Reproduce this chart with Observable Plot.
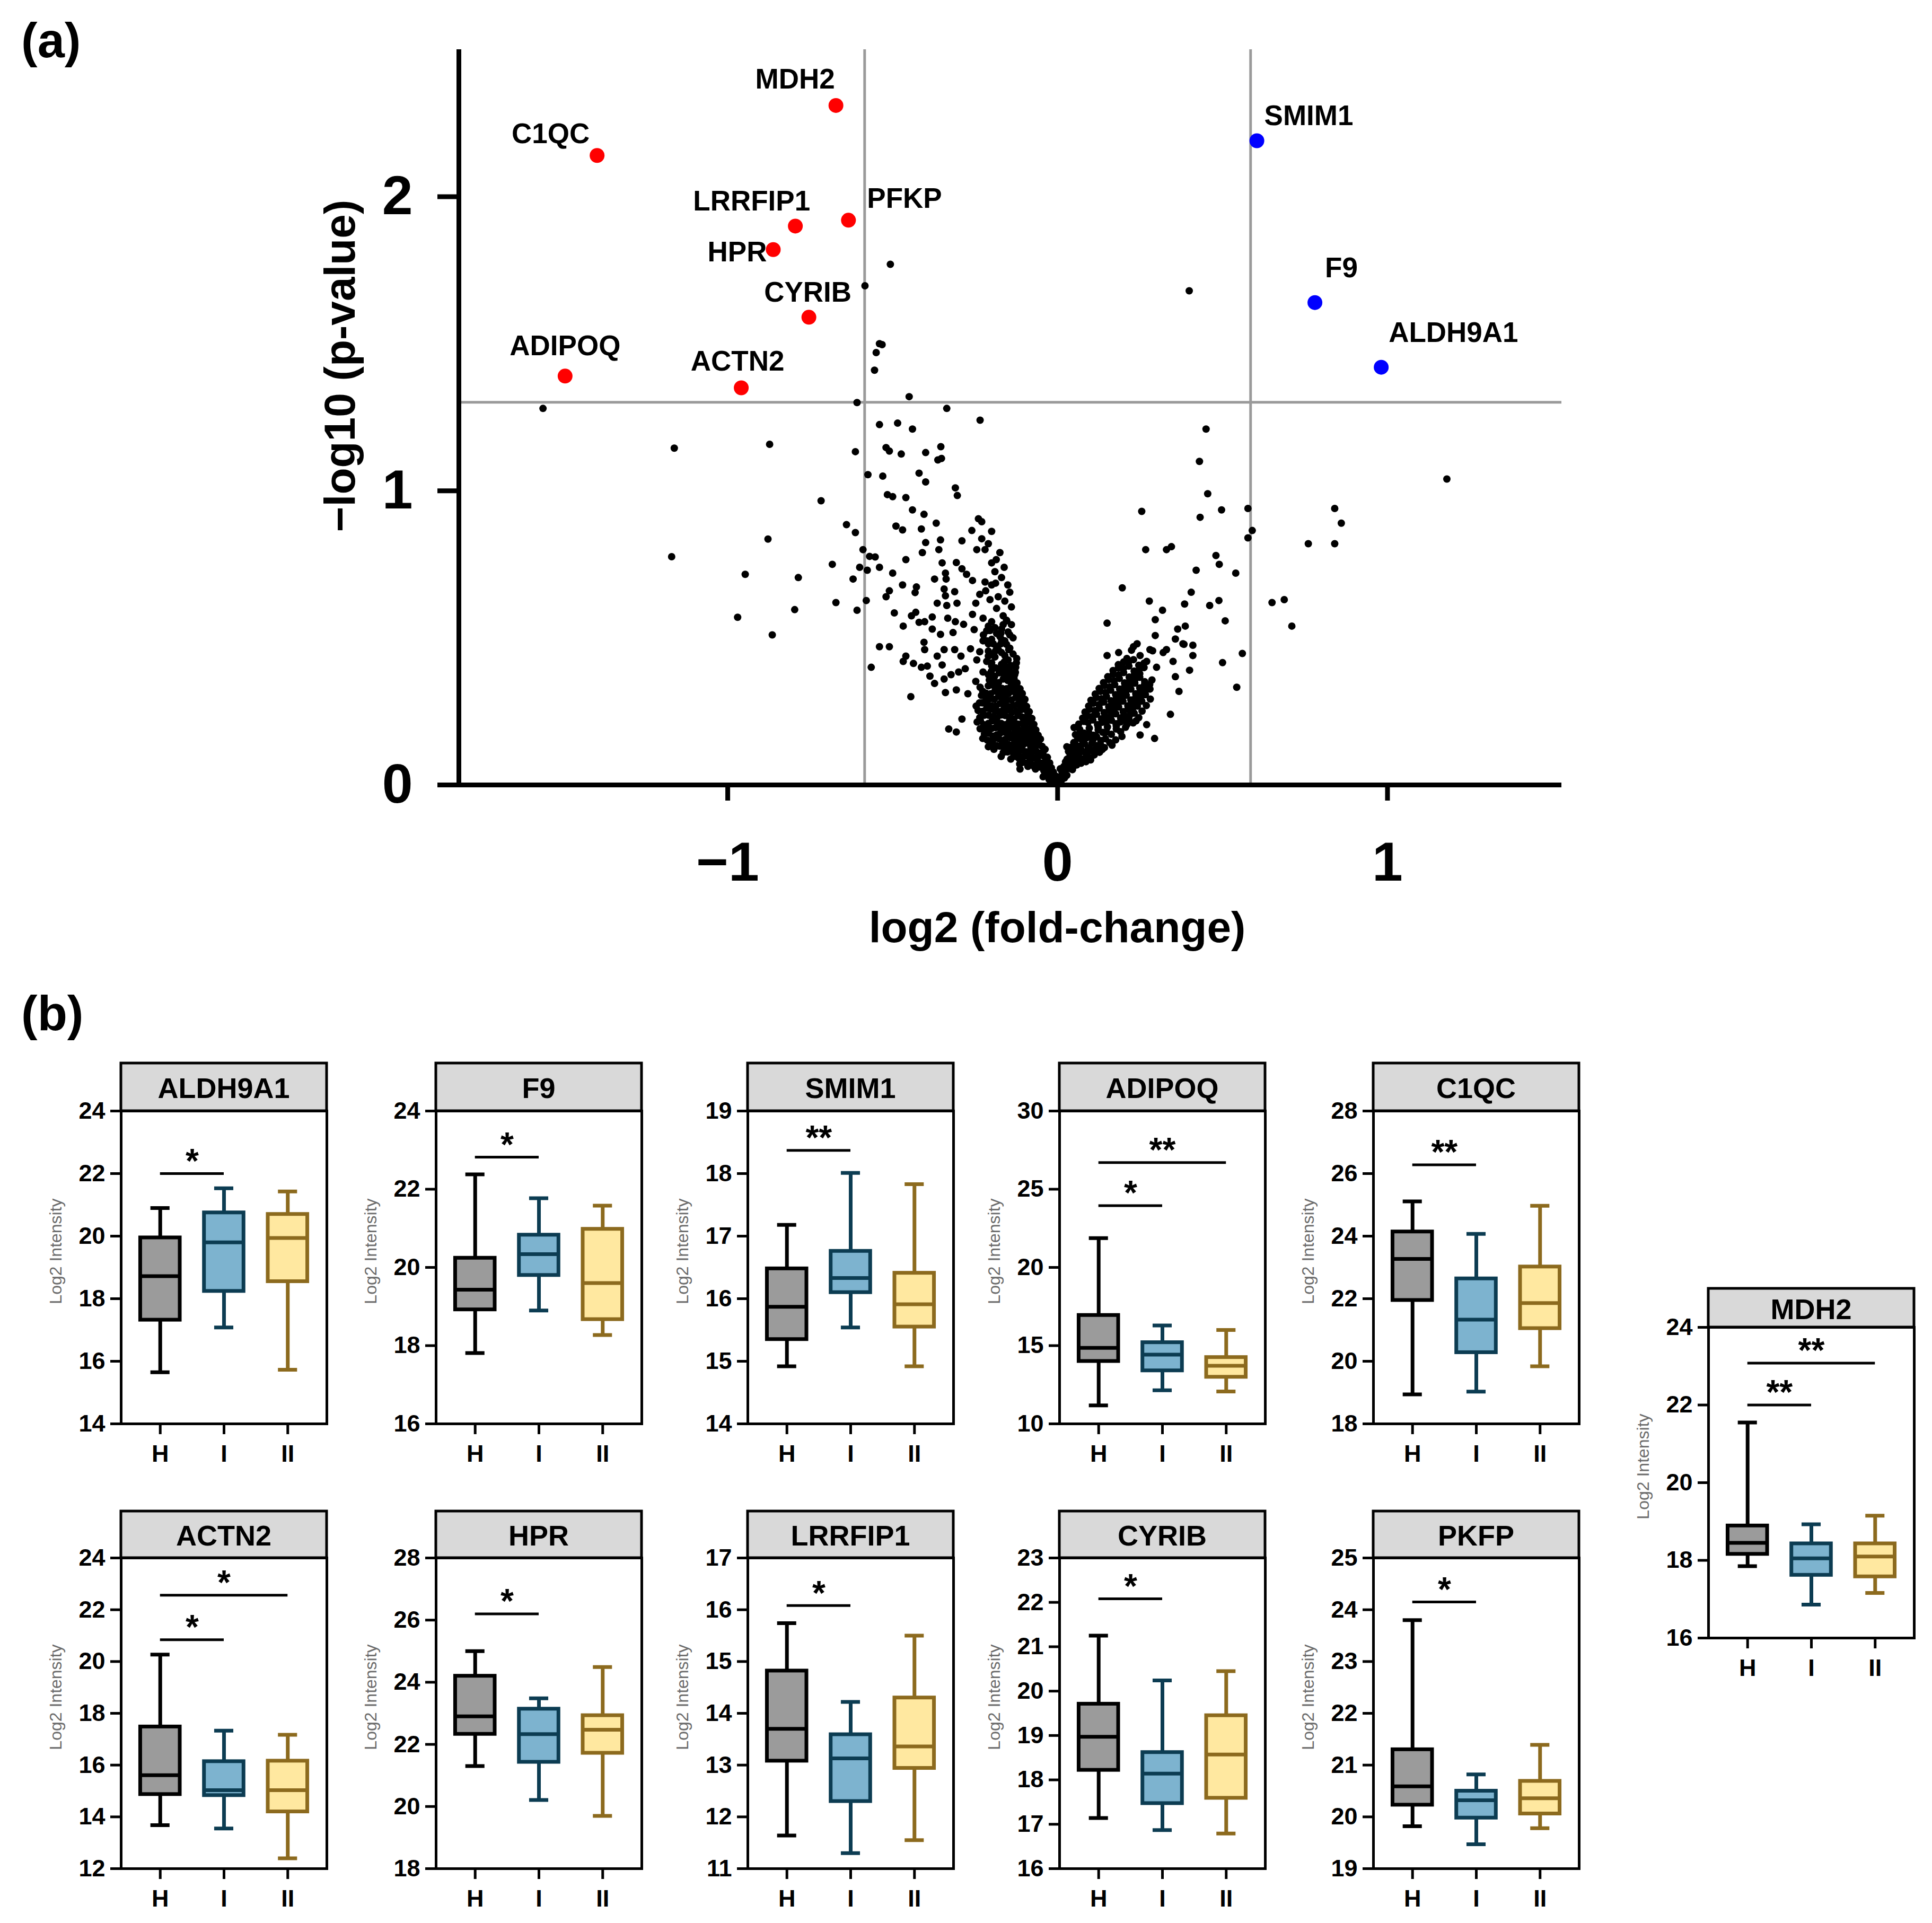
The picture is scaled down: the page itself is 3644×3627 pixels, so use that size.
<!DOCTYPE html>
<html>
<head>
<meta charset="utf-8">
<script src="https://cdn.jsdelivr.net/npm/d3@7"></script>
<script src="https://cdn.jsdelivr.net/npm/@observablehq/plot@0.6"></script>
<style>
  html, body { margin: 0; padding: 0; background: #ffffff; }
  #root { position: relative; width: 3644px; height: 3627px; background: #ffffff; font-family: "Liberation Sans", Arial, Helvetica, sans-serif; overflow: hidden; }
  .panel-letter { position: absolute; font-weight: bold; font-size: 92px; line-height: 1; color: #000; }
</style>
</head>
<body>
<div id="root"></div>
<script>
// ===================== DATA: volcano plot (a) =====================
const highlightGenes = ["MDH2","C1QC","LRRFIP1","PFKP","HPR","CYRIB","ADIPOQ","ACTN2","SMIM1","F9","ALDH9A1"];
const highlightLog2FC = [-0.672,-1.396,-0.795,-0.634,-0.862,-0.754,-1.493,-0.959,0.604,0.780,0.981];
const highlightNegLog10P = [2.31,2.14,1.90,1.92,1.82,1.59,1.39,1.35,2.19,1.64,1.42];
const highlightDirection = ["down","down","down","down","down","down","down","down","up","up","up"];

const xTicksVolcano = [-1, 0, 1];
const yTicksVolcano = [0, 1, 2];
const fcThreshold = [-0.585, 0.585];
const pThreshold = [1.301];

// other proteins [log2FC, -log10 p]
const leftArmDense = [
[-0.004,0.012],[-0.011,0.009],[-0.017,0.027],[-0.007,0.031],[-0.026,0.019],[-0.021,0.041],[-0.035,0.036],[-0.013,0.044],[-0.044,0.028],[-0.031,0.052],
[-0.019,0.058],[-0.042,0.049],[-0.055,0.061],[-0.028,0.067],[-0.067,0.054],[-0.048,0.074],[-0.078,0.069],[-0.036,0.081],[-0.09,0.063],[-0.061,0.083],[-0.104,0.077],[-0.024,0.075],[-0.083,0.087],[-0.115,0.071],
[-0.031,0.094],[-0.052,0.101],[-0.073,0.092],[-0.096,0.099],[-0.117,0.09],[-0.044,0.112],[-0.066,0.117],[-0.088,0.108],[-0.109,0.118],[-0.133,0.104],[-0.152,0.112],[-0.171,0.097],[-0.038,0.121],[-0.125,0.121],[-0.081,0.125],[-0.161,0.123],[-0.142,0.088],
[-0.047,0.131],[-0.062,0.142],[-0.079,0.136],[-0.097,0.147],[-0.114,0.133],[-0.131,0.144],[-0.149,0.137],[-0.167,0.146],[-0.186,0.134],[-0.203,0.142],[-0.052,0.156],[-0.071,0.161],[-0.093,0.158],[-0.121,0.155],[-0.144,0.161],[-0.178,0.157],[-0.213,0.152],[-0.158,0.129],[-0.193,0.121],
[-0.059,0.169],[-0.084,0.174],[-0.106,0.168],[-0.126,0.178],[-0.151,0.171],[-0.174,0.176],[-0.196,0.166],[-0.222,0.173],[-0.066,0.187],[-0.091,0.192],[-0.117,0.186],[-0.139,0.196],[-0.163,0.189],[-0.188,0.195],[-0.211,0.186],[-0.235,0.191],[-0.101,0.199],[-0.227,0.158],
[-0.072,0.206],[-0.095,0.213],[-0.121,0.207],[-0.146,0.216],[-0.171,0.209],[-0.198,0.218],[-0.224,0.205],[-0.244,0.214],[-0.078,0.226],[-0.108,0.231],[-0.133,0.224],[-0.159,0.236],[-0.184,0.228],[-0.209,0.237],[-0.236,0.229],[-0.09,0.241],[-0.145,0.201],
[-0.086,0.249],[-0.112,0.255],[-0.139,0.247],[-0.163,0.258],[-0.189,0.251],[-0.215,0.261],[-0.241,0.253],[-0.094,0.267],[-0.121,0.274],[-0.148,0.266],[-0.174,0.277],[-0.201,0.269],[-0.228,0.279],[-0.247,0.268],[-0.103,0.282],
[-0.099,0.291],[-0.127,0.297],[-0.153,0.289],[-0.179,0.301],[-0.206,0.293],[-0.231,0.304],[-0.107,0.311],[-0.135,0.318],[-0.162,0.309],[-0.19,0.319],[-0.217,0.312],[-0.118,0.3],
[-0.114,0.327],[-0.141,0.336],[-0.168,0.328],[-0.196,0.339],[-0.123,0.347],[-0.151,0.355],[-0.179,0.348],[-0.207,0.357],[-0.132,0.362],[-0.186,0.331],
[-0.137,0.371],[-0.163,0.378],[-0.191,0.369],[-0.146,0.389],[-0.174,0.396],[-0.201,0.386],[-0.128,0.383],[-0.158,0.403],
[-0.13,0.375],[-0.2,0.405],[-0.17,0.41],[-0.125,0.415],[-0.215,0.42],[-0.15,0.425],[-0.19,0.435],[-0.135,0.445],[-0.17,0.45],[-0.21,0.455],[-0.145,0.465],
[-0.185,0.47],[-0.16,0.49],[-0.2,0.495],[-0.135,0.5],[-0.175,0.505],[-0.225,0.51],[-0.15,0.52],[-0.19,0.535],[-0.165,0.545],[-0.21,0.54],[-0.14,0.545],
[-0.165,0.575],[-0.185,0.6],[-0.14,0.605],[-0.205,0.63],[-0.16,0.625],[-0.145,0.655],[-0.22,0.69],[-0.17,0.705],[-0.19,0.725],[-0.2,0.755],[-0.175,0.79],[-0.21,0.82],[-0.2,0.862],[-0.24,0.905]
];
const leftArmFill = [
[-0.032,0.058],[-0.05,0.062],[-0.071,0.062],[-0.06,0.075],[-0.09,0.075],[-0.04,0.07],
[-0.042,0.098],[-0.062,0.096],[-0.085,0.103],[-0.107,0.094],[-0.128,0.097],[-0.056,0.108],[-0.077,0.114],[-0.098,0.113],[-0.12,0.11],[-0.145,0.119],[-0.165,0.11],
[-0.056,0.137],[-0.07,0.127],[-0.088,0.141],[-0.105,0.136],[-0.122,0.143],[-0.14,0.131],[-0.158,0.143],[-0.176,0.132],[-0.195,0.136],[-0.062,0.15],[-0.082,0.152],[-0.107,0.152],[-0.132,0.157],[-0.16,0.154],[-0.195,0.155],[-0.21,0.13],
[-0.071,0.172],[-0.095,0.18],[-0.115,0.175],[-0.138,0.172],[-0.162,0.18],[-0.185,0.17],[-0.209,0.176],[-0.079,0.195],[-0.104,0.186],[-0.128,0.19],[-0.151,0.188],[-0.175,0.196],[-0.2,0.192],[-0.223,0.196],
[-0.083,0.215],[-0.108,0.209],[-0.133,0.213],[-0.158,0.205],[-0.184,0.215],[-0.21,0.209],[-0.234,0.219],[-0.093,0.231],[-0.12,0.236],[-0.146,0.229],[-0.171,0.238],[-0.196,0.233],[-0.222,0.237],
[-0.099,0.257],[-0.125,0.25],[-0.151,0.256],[-0.176,0.249],[-0.202,0.258],[-0.228,0.25],[-0.107,0.274],[-0.134,0.27],[-0.161,0.276],[-0.187,0.268],[-0.214,0.275],[-0.237,0.279],
[-0.113,0.293],[-0.14,0.289],[-0.166,0.297],[-0.192,0.291],[-0.218,0.298],[-0.121,0.316],[-0.149,0.311],[-0.176,0.316],[-0.203,0.31],[-0.227,0.318],
[-0.127,0.333],[-0.155,0.327],[-0.182,0.343],[-0.21,0.337],[-0.137,0.352],[-0.165,0.36],[-0.193,0.352],
[-0.15,0.373],[-0.177,0.381],[-0.205,0.372],[-0.16,0.392],[-0.188,0.398],[-0.142,0.406],[-0.172,0.392],[-0.2,0.415],
[-0.16,0.44],[-0.2,0.445],[-0.18,0.46],[-0.155,0.478],[-0.195,0.48],[-0.17,0.495],[-0.215,0.49],[-0.145,0.51],[-0.185,0.515],[-0.205,0.525],[-0.17,0.53],[-0.155,0.56]
];
const rightArmDense = [
[0.004,0.011],[0.012,0.016],[0.009,0.029],[0.021,0.024],[0.017,0.038],[0.028,0.033],[0.013,0.046],
[0.022,0.049],[0.036,0.056],[0.019,0.063],[0.047,0.061],[0.031,0.071],[0.058,0.068],[0.024,0.078],[0.043,0.081],[0.071,0.074],[0.086,0.079],
[0.029,0.088],[0.052,0.091],[0.073,0.087],[0.038,0.101],[0.064,0.104],[0.091,0.097],[0.111,0.102],[0.033,0.114],[0.056,0.117],[0.081,0.112],[0.102,0.119],[0.127,0.111],
[0.041,0.128],[0.067,0.131],[0.093,0.126],[0.118,0.134],[0.142,0.127],[0.049,0.144],[0.076,0.148],[0.104,0.142],[0.131,0.151],[0.158,0.144],[0.176,0.153],[0.061,0.158],[0.089,0.161],
[0.054,0.171],[0.081,0.176],[0.109,0.169],[0.137,0.179],[0.163,0.172],[0.191,0.181],[0.067,0.189],[0.096,0.193],[0.123,0.187],[0.151,0.197],[0.178,0.19],[0.206,0.196],[0.118,0.164],
[0.064,0.207],[0.092,0.212],[0.121,0.205],[0.149,0.216],[0.177,0.208],[0.204,0.219],[0.229,0.211],[0.076,0.227],[0.104,0.232],[0.133,0.225],[0.162,0.236],[0.191,0.228],[0.219,0.238],[0.246,0.229],
[0.083,0.248],[0.112,0.253],[0.141,0.246],[0.171,0.257],[0.199,0.249],[0.228,0.261],[0.256,0.251],[0.094,0.268],[0.126,0.273],[0.155,0.266],[0.184,0.277],[0.213,0.269],[0.242,0.279],[0.269,0.27],
[0.101,0.288],[0.133,0.293],[0.162,0.286],[0.193,0.297],[0.222,0.289],[0.253,0.301],[0.281,0.292],[0.114,0.309],[0.146,0.314],[0.176,0.307],[0.207,0.318],[0.237,0.31],[0.266,0.319],
[0.126,0.328],[0.158,0.333],[0.188,0.326],[0.219,0.338],[0.249,0.33],[0.279,0.341],[0.139,0.348],[0.171,0.354],[0.203,0.347],[0.234,0.358],[0.264,0.351],
[0.152,0.368],[0.185,0.374],[0.217,0.367],[0.249,0.378],[0.168,0.389],[0.2,0.396],[0.232,0.387],[0.262,0.399],[0.184,0.409],[0.215,0.416],[0.246,0.407],
[0.27,0.42],[0.3,0.4],[0.25,0.44],[0.21,0.43],[0.32,0.45],[0.28,0.46],[0.23,0.47],[0.35,0.42],[0.185,0.45]
];
const rightArmFill = [
[0.015,0.04],[0.03,0.06],[0.008,0.055],[0.045,0.052],
[0.028,0.085],[0.05,0.078],[0.064,0.092],[0.08,0.089],[0.1,0.085],[0.04,0.095],
[0.045,0.107],[0.07,0.122],[0.094,0.115],[0.116,0.122],[0.135,0.12],[0.028,0.13],
[0.055,0.136],[0.082,0.14],[0.107,0.153],[0.13,0.138],[0.165,0.135],[0.145,0.157],[0.075,0.165],
[0.07,0.18],[0.096,0.175],[0.123,0.196],[0.148,0.18],[0.178,0.2],[0.195,0.165],[0.05,0.195],[0.21,0.205],
[0.08,0.216],[0.107,0.221],[0.135,0.213],[0.163,0.22],[0.19,0.214],[0.216,0.225],[0.238,0.218],[0.09,0.235],[0.118,0.24],[0.147,0.231],[0.176,0.242],[0.205,0.233],[0.232,0.244],
[0.097,0.257],[0.126,0.261],[0.156,0.254],[0.185,0.265],[0.213,0.257],[0.242,0.268],[0.108,0.278],[0.14,0.282],[0.17,0.275],[0.198,0.285],[0.227,0.277],[0.255,0.285],
[0.117,0.297],[0.148,0.301],[0.178,0.295],[0.208,0.305],[0.237,0.298],[0.266,0.307],[0.13,0.318],[0.161,0.322],[0.191,0.315],[0.222,0.326],[0.251,0.318],[0.28,0.326],
[0.142,0.338],[0.173,0.341],[0.204,0.336],[0.234,0.346],[0.263,0.34],[0.155,0.358],[0.187,0.362],[0.219,0.356],[0.249,0.366],[0.286,0.357],
[0.168,0.376],[0.2,0.382],[0.233,0.375],[0.184,0.398],[0.216,0.404],[0.248,0.393],[0.2,0.418],[0.23,0.426],[0.262,0.414]
];
const leftScatter = [
[-0.44,0.935],[-0.405,0.92],[-0.368,0.89],[-0.23,0.895],[-0.49,0.88],[-0.47,0.867],[-0.413,0.87],[-0.613,0.858],
[-0.26,0.865],[-0.4,0.824],[-0.355,0.833],[-0.29,0.83],[-0.23,0.837],[-0.22,0.80],[-0.245,0.80],[-0.41,0.79],
[-0.36,0.80],[-0.59,0.80],[-0.57,0.777],[-0.553,0.775],[-0.46,0.766],[-0.186,0.766],[-0.162,0.74],[-0.6,0.74],
[-0.577,0.73],[-0.54,0.74],[-0.5,0.72],[-0.62,0.70],[-0.35,0.755],[-0.34,0.72],[-0.338,0.70],[-0.307,0.756],
[-0.29,0.735],[-0.276,0.716],[-0.373,0.70],[-0.258,0.695],[-0.47,0.68],[-0.428,0.673],[-0.432,0.654],[-0.51,0.66],
[-0.52,0.64],[-0.58,0.627],[-0.608,0.594],[-0.344,0.666],[-0.34,0.643],[-0.312,0.657],[-0.365,0.618],[-0.305,0.618],
[-0.336,0.61],[-0.236,0.648],[-0.218,0.66],[-0.2,0.68],[-0.188,0.686],[-0.151,0.68],[-0.18,0.64],[-0.248,0.618],
[-0.495,0.585],[-0.43,0.587],[-0.443,0.575],[-0.38,0.571],[-0.333,0.567],[-0.31,0.555],[-0.285,0.546],[-0.42,0.553],
[-0.403,0.555],[-0.468,0.54],[-0.38,0.53],[-0.355,0.512],[-0.317,0.518],[-0.258,0.58],[-0.226,0.567],[-0.2,0.555],
[-0.154,0.558],[-0.253,0.528],[-0.215,0.524],[-0.172,0.515],[-0.405,0.485],[-0.403,0.46],[-0.54,0.47],[-0.51,0.47],
[-0.344,0.46],[-0.312,0.46],[-0.264,0.463],[-0.236,0.453],[-0.226,0.49],[-0.21,0.48],[-0.172,0.48],[-0.148,0.46],
[-0.46,0.438],[-0.468,0.42],[-0.437,0.413],[-0.413,0.40],[-0.395,0.404],[-0.365,0.438],[-0.35,0.408],[-0.293,0.438],
[-0.245,0.425],[-0.21,0.438],[-0.188,0.456],[-0.124,0.43],[-0.127,0.40],[-0.162,0.418],[-0.387,0.37],[-0.373,0.345],
[-0.344,0.36],[-0.323,0.375],[-0.3,0.384],[-0.28,0.395],[-0.248,0.352],[-0.235,0.332],[-0.226,0.384],[-0.21,0.375],
[-0.34,0.314],[-0.307,0.323],[-0.272,0.31],[-0.445,0.30],[-0.565,0.40],[-0.33,0.19],[-0.307,0.18],[-0.29,0.224],
[-0.114,0.054],
[-0.584,1.697],[-0.54,1.50],[-0.532,1.497],[-0.55,1.47],[-0.555,1.41],[-0.45,1.32],[-0.608,1.30],[-0.336,1.28],
[-0.54,1.225],[-0.485,1.23],[-0.44,1.21],[-1.162,1.145],[-0.873,1.158],[-0.613,1.133],[-0.52,1.147],[-0.51,1.135],
[-0.474,1.125],[-0.4,1.13],[-0.354,1.15],[-0.352,1.11],[-0.363,1.105],[-0.575,1.055],[-0.53,1.05],[-0.42,1.06],
[-0.4,1.03],[-0.31,1.01],[-0.304,0.984],[-0.717,0.966],[-0.516,0.987],[-0.5,0.98],[-0.46,0.977],[-0.64,0.885],
[-0.878,0.836],[-1.17,0.776],[-0.507,1.77],[-0.235,1.24],[-1.56,1.28],
[-0.947,0.716],[-0.786,0.705],[-0.97,0.57],[-0.797,0.596],[-0.865,0.51],[-0.683,0.75],[-0.672,0.62]
];
const rightScatter = [
[0.399,1.68],[0.45,1.21],[0.43,1.10],[0.455,0.99],[0.255,0.93],[0.497,0.935],[0.577,0.94],[0.432,0.91],
[0.59,0.865],[0.577,0.84],[0.84,0.94],[0.86,0.89],[0.76,0.82],[0.84,0.82],[1.18,1.04],[0.267,0.80],
[0.33,0.80],[0.345,0.81],[0.48,0.78],[0.49,0.75],[0.42,0.73],[0.54,0.72],[0.196,0.67],[0.65,0.62],
[0.687,0.63],[0.71,0.54],[0.278,0.625],[0.318,0.594],[0.385,0.615],[0.405,0.655],[0.461,0.61],[0.489,0.627],
[0.508,0.558],[0.296,0.562],[0.364,0.53],[0.387,0.54],[0.296,0.508],[0.357,0.496],[0.38,0.48],[0.41,0.475],
[0.56,0.447],[0.224,0.458],[0.241,0.48],[0.33,0.46],[0.15,0.55],[0.15,0.44],[0.288,0.456],[0.342,0.24],
[0.368,0.318],[0.543,0.332],[0.5,0.416],[0.357,0.368],[0.40,0.39],[0.41,0.44],[0.383,0.478],[0.25,0.17],
[0.294,0.158],[0.27,0.205]
];

// ===================== DATA: box plots (b) =====================
const groups = ["H", "I", "II"];
const boxGenes = ["ALDH9A1","F9","SMIM1","ADIPOQ","C1QC","MDH2","ACTN2","HPR","LRRFIP1","CYRIB","PKFP"];
const boxMin = [
[15.65,17.08,15.73],[17.81,18.9,18.27],[14.92,15.54,14.92],[11.18,12.14,12.07],[18.94,19.03,19.84],[17.85,16.86,17.16],
[13.68,13.55,12.4],[21.3,20.21,19.7],[11.64,11.3,11.55],[17.14,16.87,16.79],[19.82,19.47,19.78]];
const boxQ1 = [
[17.32,18.24,18.55],[18.92,19.8,18.67],[15.35,16.1,15.55],[14.0,13.4,12.99],[21.95,20.28,21.05],[18.16,17.62,17.58],
[14.87,14.83,14.2],[22.33,21.43,21.72],[13.08,12.3,12.94],[18.22,17.47,17.59],[20.23,19.98,20.06]];
const boxMedian = [
[18.72,19.8,19.94],[19.43,20.34,19.6],[15.87,16.33,15.91],[14.86,14.42,13.71],[23.27,21.33,21.86],[18.45,18.05,18.1],
[15.61,15.03,15.03],[22.9,22.33,22.47],[13.7,13.13,13.36],[18.97,18.14,18.57],[20.59,20.32,20.36]];
const boxQ3 = [
[19.95,20.75,20.7],[20.24,20.83,20.98],[16.48,16.76,16.41],[16.94,15.2,14.25],[24.14,22.64,23.02],[18.89,18.43,18.43],
[17.48,16.14,16.16],[24.2,23.14,22.93],[14.82,13.59,14.3],[19.71,18.62,19.45],[21.3,20.5,20.69]];
const boxMax = [
[20.9,21.53,21.43],[22.38,21.77,21.58],[17.18,18.01,17.83],[21.87,16.29,16.0],[25.11,24.07,24.97],[21.55,18.93,19.15],
[20.27,17.33,17.17],[25.0,23.48,24.49],[15.74,14.22,15.5],[21.25,20.24,20.45],[23.8,20.82,21.39]];
const boxYDomain = [[14,24],[16,24],[14,19],[10,30],[18,28],[16,24],[12,24],[18,28],[11,17],[16,23],[19,25]];
const boxYTickStep = [2,2,1,5,2,2,2,2,1,1,1];

// significance brackets
const sigGene  = ["ALDH9A1","F9","SMIM1","ADIPOQ","ADIPOQ","C1QC","MDH2","MDH2","ACTN2","ACTN2","HPR","LRRFIP1","CYRIB","PKFP"];
const sigFrom  = ["H","H","H","H","H","H","H","H","H","H","H","H","H","H"];
const sigTo    = ["I","I","I","I","II","I","I","II","I","II","I","I","I","I"];
const sigValue = [22.0,22.82,18.37,23.95,26.7,26.28,22.0,23.08,20.84,22.56,26.2,16.08,22.08,24.15];
const sigStars = ["*","*","**","*","**","**","**","**","*","*","*","*","*","*"];

// ===================== STYLE / LAYOUT =====================
const FONT = '"Liberation Sans", Arial, Helvetica, sans-serif';
const groupFill = ["#9b9b9b", "#7db3cf", "#ffe8a0"];
const groupStroke = ["#000000", "#0c3c52", "#8c6a1e"];
const dirColor = {down: "#ff0000", up: "#0000ff"};
// label placement: [textAnchor, dx, dy] in pixels
const labelPlacement = {
  MDH2: ["middle", -77, -49], C1QC: ["end", -14, -40], LRRFIP1: ["end", 28, -46], PFKP: ["start", 35, -40],
  HPR: ["end", -12, 5], CYRIB: ["middle", -2, -46], ADIPOQ: ["middle", 0, -56], ACTN2: ["middle", -7, -49],
  SMIM1: ["start", 14, -46], F9: ["start", 19, -65], ALDH9A1: ["start", 14, -65]
};
// panel layout: [plotLeft, headerTop, headerHeight, plotHeight]
const panelLayout = [
  [228,2005,90,590],[822,2005,90,590],[1410,2005,90,590],[1998,2005,90,590],[2590,2005,90,590],
  [3222,2430,73,586],
  [228,2850,88,586],[822,2850,88,586],[1410,2850,88,586],[1998,2850,88,586],[2590,2850,88,586]
];
const PANEL_W = 388;

const root = document.getElementById("root");
function place(el, left, top) {
  el.style.position = "absolute";
  el.style.left = left + "px";
  el.style.top = top + "px";
  root.appendChild(el);
}

// ===================== (a) volcano =====================
const others = [...leftArmDense, ...leftArmFill, ...rightArmDense, ...rightArmFill, ...leftScatter, ...rightScatter].map(([x, y]) => ({x, y}));
const highlights = highlightGenes.map((g, i) => ({gene: g, x: highlightLog2FC[i], y: highlightNegLog10P[i], dir: highlightDirection[i]}));

const VX = [-1.815, 1.528];
const volcano = Plot.plot({
  width: 3000, height: 1800,
  marginLeft: 865, marginRight: 55, marginTop: 93, marginBottom: 320,
  style: {fontFamily: FONT, background: "transparent", overflow: "visible"},
  x: {domain: VX},
  y: {domain: [0, 2.5]},
  color: {type: "identity"},
  marks: [
    Plot.ruleX(fcThreshold, {stroke: "#9a9a9a", strokeWidth: 5}),
    Plot.ruleY(pThreshold, {stroke: "#9a9a9a", strokeWidth: 5}),
    Plot.dot(others, {x: "x", y: "y", r: 7, fill: "#000000"}),
    Plot.dot(highlights, {x: "x", y: "y", r: 14, fill: d => dirColor[d.dir]}),
    ...highlights.map(d => Plot.text([d], {
      x: "x", y: "y", text: "gene",
      textAnchor: labelPlacement[d.gene][0], dx: labelPlacement[d.gene][1], dy: labelPlacement[d.gene][2],
      fontSize: 53, fontWeight: "bold", fill: "#000000"
    })),
    Plot.ruleX([VX[0]], {stroke: "#000000", strokeWidth: 9}),
    Plot.ruleY([0], {stroke: "#000000", strokeWidth: 9}),
    Plot.axisY({ticks: yTicksVolcano, tickSize: 40, tickPadding: 47, strokeWidth: 9, fontSize: 104, fontWeight: "bold", label: null, tickFormat: d => String(d)}),
    Plot.axisX({ticks: xTicksVolcano, tickSize: 30, tickPadding: 77, strokeWidth: 9, fontSize: 104, fontWeight: "bold", label: null,
      tickFormat: d => d < 0 ? "\u2212" + Math.abs(d) : String(d)})
  ]
});
{
  const s = d3.select(volcano);
  s.append("text").attr("x", 1994).attr("y", 1748).attr("text-anchor", "middle").attr("dominant-baseline", "central")
    .attr("font-family", FONT).attr("font-size", 82).attr("font-weight", "bold").attr("fill", "#000").text("log2 (fold-change)");
  s.append("text").attr("transform", "translate(640,690) rotate(-90)").attr("text-anchor", "middle").attr("dominant-baseline", "central")
    .attr("font-family", FONT).attr("font-size", 82).attr("font-weight", "bold").attr("fill", "#000").text("\u2212log10 (p-value)");
}
place(volcano, 0, 0);

// ===================== (b) box panels =====================
boxGenes.forEach((gene, gi) => {
  const [left, headerTop, headerH, plotH] = panelLayout[gi];
  const rows = groups.map((g, k) => ({
    k, g, min: boxMin[gi][k], q1: boxQ1[gi][k], med: boxMedian[gi][k], q3: boxQ3[gi][k], max: boxMax[gi][k],
    fill: groupFill[k], stroke: groupStroke[k]
  }));
  const sigs = sigGene.map((sg, i) => ({sg, from: groups.indexOf(sigFrom[i]), to: groups.indexOf(sigTo[i]), y: sigValue[i], label: sigStars[i]}))
    .filter(d => d.sg === gene);
  const [y0, y1] = boxYDomain[gi];
  const ticks = d3.range(y0, y1 + 1e-9, boxYTickStep[gi]);
  const ml = 240, mr = 12, pad = 6, mt = headerH + pad, mb = 130;
  const HW = 0.31, CAP = 0.15;
  const svg = Plot.plot({
    width: PANEL_W + ml + mr, height: mt + plotH + mb,
    marginLeft: ml, marginRight: mr, marginTop: mt, marginBottom: mb,
    style: {fontFamily: FONT, background: "transparent", overflow: "visible"},
    color: {type: "identity"},
    x: {domain: [-0.613, 2.613]},
    y: {domain: [y0, y1]},
    marks: [
      Plot.axisY({ticks, tickSize: 20, tickPadding: 10, strokeWidth: 5, fontSize: 45, fontWeight: "bold", label: null, tickFormat: d => String(d)}),
      Plot.axisX({ticks: [0, 1, 2], tickFormat: i => groups[i], tickSize: 20, tickPadding: 20, strokeWidth: 5, fontSize: 45, fontWeight: "bold", label: null}),
      Plot.ruleX(rows, {x: "k", y1: "min", y2: "max", stroke: "stroke", strokeWidth: 7}),
      Plot.ruleY(rows, {x1: d => d.k - CAP, x2: d => d.k + CAP, y: "min", stroke: "stroke", strokeWidth: 7}),
      Plot.ruleY(rows, {x1: d => d.k - CAP, x2: d => d.k + CAP, y: "max", stroke: "stroke", strokeWidth: 7}),
      Plot.rect(rows, {x1: d => d.k - HW, x2: d => d.k + HW, y1: "q1", y2: "q3", fill: "fill", stroke: "stroke", strokeWidth: 7}),
      Plot.ruleY(rows, {x1: d => d.k - HW, x2: d => d.k + HW, y: "med", stroke: "stroke", strokeWidth: 7}),
      Plot.ruleY(sigs, {x1: "from", x2: "to", y: "y", stroke: "#000000", strokeWidth: 5}),
      Plot.text(sigs, {x: d => (d.from + d.to) / 2, y: "y", text: "label", dy: -22, fontSize: 64, fontWeight: "bold", fill: "#000000"}),
      Plot.frame({stroke: "#000000", strokeWidth: 5})
    ]
  });
  const s = d3.select(svg);
  s.append("rect").attr("x", ml).attr("y", pad).attr("width", PANEL_W).attr("height", headerH)
    .attr("fill", "#d9d9d9").attr("stroke", "#000").attr("stroke-width", 5);
  s.append("text").attr("x", ml + PANEL_W / 2).attr("y", pad + headerH / 2 + 2).attr("text-anchor", "middle").attr("dominant-baseline", "central")
    .attr("font-family", FONT).attr("font-size", 54).attr("font-weight", "bold").attr("fill", "#000").text(gene);
  s.append("text").attr("transform", `translate(${ml - 123},${mt + plotH / 2 - 30}) rotate(-90)`)
    .attr("text-anchor", "middle").attr("dominant-baseline", "central")
    .attr("font-family", FONT).attr("font-size", 32).attr("fill", "#6b6b6b").text("Log2 Intensity");
  place(svg, left - ml, headerTop - pad);
});

// panel letters
const la = document.createElement("div"); la.className = "panel-letter"; la.textContent = "(a)"; place(la, 40, 30);
const lb = document.createElement("div"); lb.className = "panel-letter"; lb.textContent = "(b)"; place(lb, 40, 1865);
</script>
</body>
</html>
